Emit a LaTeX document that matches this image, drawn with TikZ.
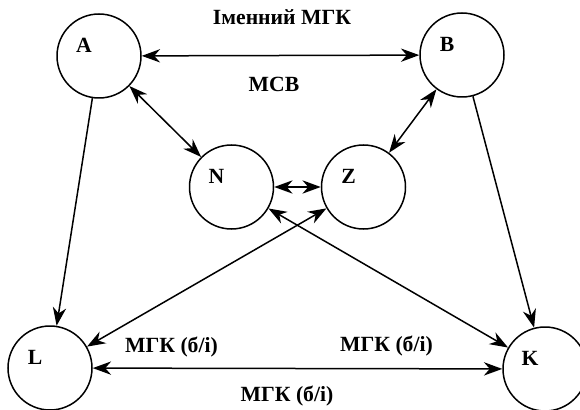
\documentclass[tikz,border=0pt]{standalone}
\usepackage{fontspec}
\setmainfont{Liberation Serif}
\usepackage{tikz}
\usetikzlibrary{arrows.meta}

\tikzset{
  vertex/.style={draw,circle,line width=0.9pt,minimum size=50.4pt,inner sep=0pt,
    label={[xshift=-9pt,yshift=6.5pt,font=\fontsize{13}{15}\selectfont\bfseries]center:#1}},
  oneway/.style={line width=0.9pt,-{Stealth[length=11pt,width=8pt,inset=3.5pt]}},
  twoway/.style={line width=0.9pt,{Stealth[length=11pt,width=8pt,inset=3.5pt]}-{Stealth[length=11pt,width=8pt,inset=3.5pt]}},
  tag/.style={font=\fontsize{13}{15}\selectfont\bfseries,inner sep=0pt}
}

\begin{document}
\begin{tikzpicture}[x=0.6pt,y=-0.6pt]
    \useasboundingbox (0,0) rectangle (580,410);
    \node[vertex=A] (A) at (99,56) {};
    \node[vertex=B] (B) at (462,55) {};
    \node[vertex=N] (N) at (231.5,187) {};
    \node[vertex=Z] (Z) at (363.5,187) {};
    \node[vertex=L] (L) at (50,368) {};
    \node[vertex=K] (K) at (545,369) {};
    \draw[twoway] (A) to (B);
    \draw[twoway] (A) to (N);
    \draw[twoway] (B) to (Z);
    \draw[twoway] (N) to (Z);
    \draw[oneway] (A) to (L);
    \draw[oneway] (B) to (K);
    \draw[twoway] (Z) to (L);
    \draw[twoway] (N) to (K);
    \draw[twoway] (L) to (K);
    \node[tag] (ab1) at (282,17) {Іменний МГК};
    \node[tag] (ab2) at (274,84) {МСВ};
    \node[tag] (lk1) at (171.5,347) {МГК (б/і)};
    \node[tag] (lk2) at (386.5,346) {МГК (б/і)};
    \node[tag] (lk3) at (287,396) {МГК (б/і)};
\end{tikzpicture}
\end{document}
